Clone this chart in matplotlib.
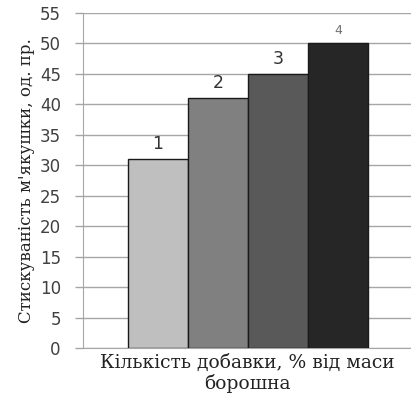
import matplotlib.pyplot as plt

# bar data
labels = ['1', '2', '3', '4']
values = [31, 41, 45, 50]
colors = ['#bfbfbf', '#808080', '#595959', '#262626']
yticks = list(range(0, 60, 5))

fig = plt.figure(figsize=(4.11, 4.03), dpi=100)
ax = fig.add_axes([83 / 411, 55 / 403, 328 / 411, 335 / 403])

x = list(range(len(values)))
bars = ax.bar(x, values, width=1.0, color=colors, edgecolor='#1a1a1a', linewidth=1, zorder=3)

#bar labels
for i, (b, lab) in enumerate(zip(bars, labels)):
    if i == 3:
        ax.text(b.get_x() + b.get_width() / 2, b.get_height() + 1.0, lab,
                ha='center', va='bottom', fontsize=9, color='#707070', family='DejaVu Sans')
    else:
        ax.text(b.get_x() + b.get_width() / 2, b.get_height() + 1.0, lab,
                ha='center', va='bottom', fontsize=12.5, color='#333333', family='DejaVu Sans')

ax.set_ylim(0, 55)
ax.set_xlim(-1.25, 4.22)
ax.set_yticks(yticks)
ax.set_yticklabels([str(t) for t in yticks], fontsize=12, color='#404040', family='DejaVu Sans')
ax.set_xticks([])
ax.yaxis.grid(True, color='#a6a6a6', linewidth=1, zorder=0)
ax.tick_params(axis='y', length=6, color='#a6a6a6', width=1, pad=10)

for s in ['top', 'right']:
    ax.spines[s].set_visible(False)
ax.spines['left'].set_color('#a6a6a6')
ax.spines['bottom'].set_color('#a6a6a6')

ax.set_ylabel("Стискуваність м'якушки, од. пр.", fontsize=12, family='DejaVu Serif', color='#222222', labelpad=3)
ax.set_xlabel('Кількість добавки, % від маси\nборошна', fontsize=13.5, family='DejaVu Serif', color='#222222', labelpad=4, linespacing=1.15)

fig.savefig('out.png', dpi=100)
